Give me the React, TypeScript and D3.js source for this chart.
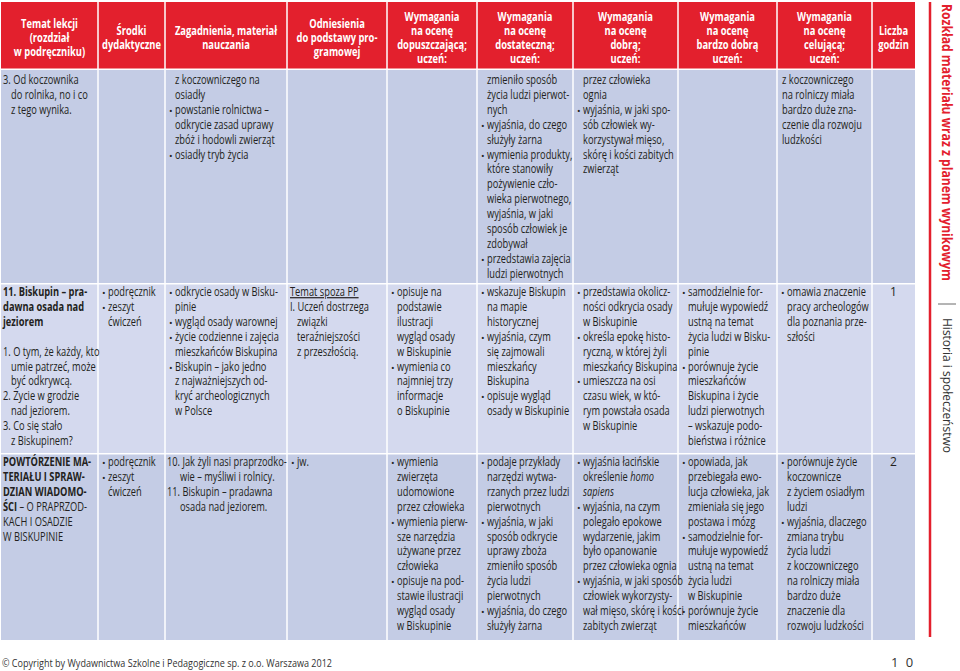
import React from "react";
import * as d3 from "d3";

// ---- table content ----
const headerLabels: string[][] = [
  ["Temat lekcji", "(rozdział", "w podręczniku)"],
  ["Środki", "dydaktyczne"],
  ["Zagadnienia, materiał", "nauczania"],
  ["Odniesienia", "do podstawy pro-", "gramowej"],
  ["Wymagania", "na ocenę", "dopuszczającą;", "uczeń:"],
  ["Wymagania", "na ocenę", "dostateczną;", "uczeń:"],
  ["Wymagania", "na ocenę", "dobrą;", "uczeń:"],
  ["Wymagania", "na ocenę", "bardzo dobrą", "uczeń:"],
  ["Wymagania", "na ocenę", "celującą;", "uczeń:"],
  ["Liczba", "godzin"],
];

// markers: "• " bullet, "> " indented, ">> " deep indent, *bold*, _italic_, ~underline~
const lessonTopics: string[][] = [
  ["3. Od koczownika", "> do rolnika, no i co", "> z tego wynika."],
  [
    "*11. Biskupin – pra-*", "*dawna osada nad*", "*jeziorem*", "",
    "1. O tym, że każdy, kto", "> umie patrzeć, może", "> być odkrywcą.",
    "2. Życie w grodzie", "> nad jeziorem.", "3. Co się stało", "> z Biskupinem?",
  ],
  ["*POWTÓRZENIE MA-*", "*TERIAŁU I SPRAW-*", "*DZIAN WIADOMO-*", "*ŚCI* – O PRAPRZOD-", "KACH I OSADZIE", "W BISKUPINIE"],
];

const teachingAids: string[][] = [
  [],
  ["• podręcznik", "• zeszyt", "> ćwiczeń"],
  ["• podręcznik", "• zeszyt", "> ćwiczeń"],
];

const topicIssues: string[][] = [
  ["> z koczowniczego na", "> osiadły", "• powstanie rolnictwa –", "> odkrycie zasad uprawy", "> zbóż i hodowli zwierząt", "• osiadły tryb życia"],
  [
    "• odkrycie osady w Bisku-", "> pinie", "• wygląd osady warownej", "• życie codzienne i zajęcia",
    "> mieszkańców Biskupina", "• Biskupin – jako jedno", "> z najważniejszych od-", "> kryć archeologicznych", "> w Polsce",
  ],
  ["10. Jak żyli nasi praprzodko-", ">> wie – myśliwi i rolnicy.", "11. Biskupin – pradawna", ">> osada nad jeziorem."],
];

const curriculumRefs: string[][] = [
  [],
  ["~Temat spoza PP~", "I. Uczeń dostrzega", "> związki", "> teraźniejszości", "> z przeszłością."],
  ["• jw."],
];

const gradePass: string[][] = [
  [],
  ["• opisuje na", "> podstawie", "> ilustracji", "> wygląd osady", "> w Biskupinie", "• wymienia co", "> najmniej trzy", "> informacje", "> o Biskupinie"],
  [
    "• wymienia", "> zwierzęta", "> udomowione", "> przez człowieka", "• wymienia pierw-", "> sze narzędzia",
    "> używane przez", "> człowieka", "• opisuje na pod-", "> stawie ilustracji", "> wygląd osady", "> w Biskupinie",
  ],
];

const gradeSatisfactory: string[][] = [
  [
    "> zmieniło sposób", "> życia ludzi pierwot-", "> nych", "• wyjaśnia, do czego", "> służyły żarna",
    "• wymienia produkty,", "> które stanowiły", "> pożywienie czło-", "> wieka pierwotnego,", "> wyjaśnia, w jaki",
    "> sposób człowiek je", "> zdobywał", "• przedstawia zajęcia", "> ludzi pierwotnych",
  ],
  ["• wskazuje Biskupin", "> na mapie", "> historycznej", "• wyjaśnia, czym", "> się zajmowali", "> mieszkańcy", "> Biskupina", "• opisuje wygląd", "> osady w Biskupinie"],
  [
    "• podaje przykłady", "> narzędzi wytwa-", "> rzanych przez ludzi", "> pierwotnych", "• wyjaśnia, w jaki",
    "> sposób odkrycie", "> uprawy zboża", "> zmieniło sposób", "> życia ludzi", "> pierwotnych",
    "• wyjaśnia, do czego", "> służyły żarna",
  ],
];

const gradeGood: string[][] = [
  ["> przez człowieka", "> ognia", "• wyjaśnia, w jaki spo-", "> sób człowiek wy-", "> korzystywał mięso,", "> skórę i kości zabitych", "> zwierząt"],
  [
    "• przedstawia okolicz-", "> ności odkrycia osady", "> w Biskupinie", "• określa epokę histo-", "> ryczną, w której żyli",
    "> mieszkańcy Biskupina", "• umieszcza na osi", "> czasu wiek, w któ-", "> rym powstała osada", "> w Biskupinie",
  ],
  [
    "• wyjaśnia łacińskie", "> określenie _homo_", "> _sapiens_", "• wyjaśnia, na czym", "> polegało epokowe",
    "> wydarzenie, jakim", "> było opanowanie", "> przez człowieka ognia", "• wyjaśnia, w jaki sposób",
    "> człowiek wykorzysty-", "> wał mięso, skórę i kości", "> zabitych zwierząt",
  ],
];

const gradeVeryGood: string[][] = [
  [],
  [
    "• samodzielnie for-", "> mułuje wypowiedź", "> ustną na temat", "> życia ludzi w Bisku-", "> pinie",
    "• porównuje życie", "> mieszkańców", "> Biskupina i życie", "> ludzi pierwotnych", "> – wskazuje podo-", "> bieństwa i różnice",
  ],
  [
    "• opowiada, jak", "> przebiegała ewo-", "> lucja człowieka, jak", "> zmieniała się jego", "> postawa i mózg",
    "• samodzielnie for-", "> mułuje wypowiedź", "> ustną na temat", "> życia ludzi", "> w Biskupinie",
    "• porównuje życie", "> mieszkańców",
  ],
];

const gradeExcellent: string[][] = [
  ["z koczowniczego", "na rolniczy miała", "bardzo duże zna-", "czenie dla rozwoju", "ludzkości"],
  ["• omawia znaczenie", "> pracy archeologów", "> dla poznania prze-", "> szłości"],
  [
    "• porównuje życie", "> koczownicze", "> z życiem osiadłym", "> ludzi", "• wyjaśnia, dlaczego",
    "> zmiana trybu", "> życia ludzi", "> z koczowniczego", "> na rolniczy miała", "> bardzo duże",
    "> znaczenie dla", "> rozwoju ludzkości",
  ],
];

const hours: string[] = ["", "1", "2"];

const sideTitle = "Rozkład materiału wraz z planem wynikowym";
const sideSubject = "Historia i społeczeństwo";
const copyright = "© Copyright by Wydawnictwa Szkolne i Pedagogiczne sp. z o.o. Warszawa 2012";
const pageNo = "1 0";

const columns = [lessonTopics, teachingAids, topicIssues, curriculumRefs, gradePass, gradeSatisfactory, gradeGood, gradeVeryGood, gradeExcellent];

// ---- layout ----
const W = 960;
const H = 671;
const RED = "#e3202d";
const INK = "#231f20";
const ROW_BG = ["#c4cce5", "#d4d9ee", "#c4cce5"];
const FONT = "'Open Sans', 'DejaVu Sans', sans-serif";
const FS = 12;
const SX = 0.775;
const HSX = 0.78;
const LH = 14.9;

const tableX = 1;
const colWidths = [97, 67, 122, 100, 90, 96, 105, 99, 95, 43];
const colEdges = [tableX, ...Array.from(d3.cumsum(colWidths), (v) => v + tableX)];
const plainPad = [2, 3, 2, 3, 4, 4, 4, 5, 5, 0];

const headTop = 2;
const headBottom = 68.5;
const gap = 1.5;
const rowHeights = [213, 168.5, 185.5];
const rowTops = rowHeights.map((_, i) => headBottom + gap + d3.sum(rowHeights.slice(0, i)) + gap * i);
const firstOffset = [14, 11.5, 11.5];

type Seg = { t: string; b?: boolean; i?: boolean; u?: boolean };

function parseSegs(text: string): Seg[] {
  return text
    .split(/(\*[^*]+\*|_[^_]+_|~[^~]+~)/)
    .filter((p) => p.length > 0)
    .map((p) => {
      if (p.length > 1 && p[0] === "*" && p[p.length - 1] === "*") return { t: p.slice(1, -1), b: true };
      if (p.length > 1 && p[0] === "_" && p[p.length - 1] === "_") return { t: p.slice(1, -1), i: true };
      if (p.length > 1 && p[0] === "~" && p[p.length - 1] === "~") return { t: p.slice(1, -1), u: true };
      return { t: p };
    });
}

const Cell = ({ lines, col, row }: { lines: string[]; col: number; row: number }) => {
  const x0 = colEdges[col];
  const y0 = rowTops[row] + firstOffset[row];
  return (
    <g>
      {lines.map((raw, k) => {
        if (!raw) return null;
        const y = y0 + k * LH;
        let text = raw;
        let tx = x0 + plainPad[col];
        let bullet = false;
        if (raw.startsWith("• ")) {
          bullet = true;
          text = raw.slice(2);
          tx = x0 + 10;
        } else if (raw.startsWith(">> ")) {
          text = raw.slice(3);
          tx = x0 + 15;
        } else if (raw.startsWith("> ")) {
          text = raw.slice(2);
          tx = x0 + 10;
        }
        return (
          <g key={k}>
            {bullet && (
              <text x={x0 + 4} y={y} fontSize={FS * 0.8} fill={INK}>
                •
              </text>
            )}
            <text transform={`translate(${tx},${y}) scale(${SX},1)`} fontSize={FS} fill={INK} style={{ whiteSpace: "pre" }}>
              {parseSegs(text).map((s, j) => (
                <tspan
                  key={j}
                  fontWeight={s.b ? 700 : 400}
                  fontStyle={s.i ? "italic" : "normal"}
                  textDecoration={s.u ? "underline" : "none"}
                >
                  {s.t}
                </tspan>
              ))}
            </text>
          </g>
        );
      })}
    </g>
  );
};

export default function App() {
  return (
    <svg width={W} height={H} style={{ position: "absolute", left: 0, top: 0, background: "#fff" }} fontFamily={FONT}>
      {/* header */}
      {headerLabels.map((lab, c) => {
        const x1 = colEdges[c] + (c === 0 ? 0 : 0.75);
        const x2 = colEdges[c + 1] - (c === headerLabels.length - 1 ? 0 : 0.75);
        const cx = (colEdges[c] + colEdges[c + 1]) / 2;
        return (
          <g key={c}>
            <rect x={x1} y={headTop} width={x2 - x1} height={headBottom - headTop} fill={RED} />
            {lab.map((l, k) => (
              <text
                key={k}
                transform={`translate(${cx},${41 + (k - (lab.length - 1) / 2) * 13.8 + 1}) scale(${HSX},1)`}
                textAnchor="middle"
                fontSize={12}
                fontWeight={700}
                fill="#fff"
              >
                {l}
              </text>
            ))}
          </g>
        );
      })}

      {/* body rows */}
      {rowHeights.map((h, r) => (
        <g key={r}>
          {colWidths.map((_, c) => {
            const x1 = colEdges[c] + (c === 0 ? 0 : 0.75);
            const x2 = colEdges[c + 1] - (c === colWidths.length - 1 ? 0 : 0.75);
            return <rect key={c} x={x1} y={rowTops[r]} width={x2 - x1} height={h} fill={ROW_BG[r]} />;
          })}
          {columns.map((colData, c) => (
            <Cell key={c} lines={colData[r]} col={c} row={r} />
          ))}
          {hours[r] && (
            <text
              x={(colEdges[9] + colEdges[10]) / 2}
              y={rowTops[r] + firstOffset[r]}
              textAnchor="middle"
              fontSize={FS}
              fill={INK}
            >
              {hours[r]}
            </text>
          )}
        </g>
      ))}

      {/* side band */}
      <line x1={930} x2={930} y1={2} y2={637} stroke={RED} strokeWidth={2.5} />
      <text
        transform="translate(942,4) rotate(90)"
        fontSize={14}
        fontWeight={700}
        fill={RED}
        textLength={277}
        lengthAdjust="spacingAndGlyphs"
      >
        {sideTitle}
      </text>
      <line x1={938} x2={956} y1={304} y2={304} stroke="#444" strokeWidth={0.8} />
      <text transform="translate(943,318) rotate(90)" fontSize={13} fill="#333" textLength={135} lengthAdjust="spacingAndGlyphs">
        {sideSubject}
      </text>

      {/* footer */}
      <text x={2} y={667} fontSize={11.5} fill="#333" textLength={330} lengthAdjust="spacingAndGlyphs">
        {copyright}
      </text>
      <text x={891} y={667} fontSize={13} fill="#333" letterSpacing={2}>
        {pageNo}
      </text>
    </svg>
  );
}
